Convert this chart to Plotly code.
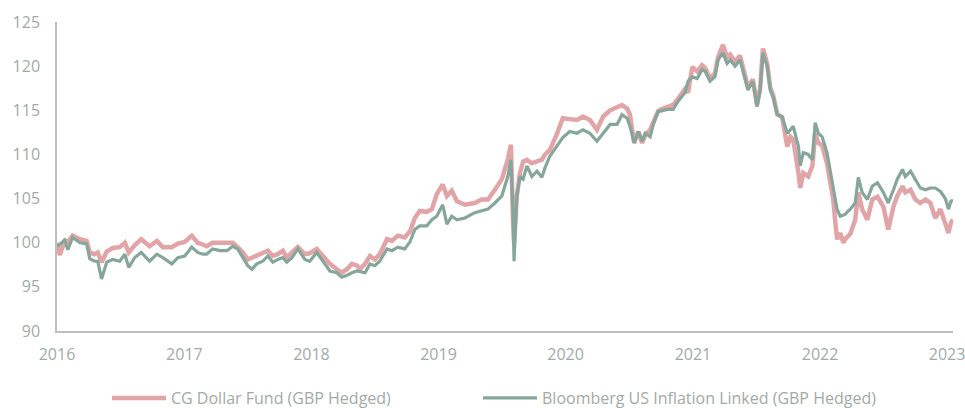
import plotly.graph_objects as go

dates = [
    "2016-01-01", "2016-01-09", "2016-01-23", "2016-02-01", "2016-02-15", "2016-03-07", "2016-03-26",
    "2016-04-04", "2016-04-18", "2016-04-27", "2016-05-08", "2016-05-14", "2016-05-23", "2016-06-09",
    "2016-06-29", "2016-07-14", "2016-07-25", "2016-08-11", "2016-08-30", "2016-09-23", "2016-10-14",
    "2016-10-31", "2016-11-26", "2016-12-13", "2017-01-02",
    "2017-01-22", "2017-02-08", "2017-02-23", "2017-03-06", "2017-03-23", "2017-04-13", "2017-05-03",
    "2017-05-20", "2017-06-03", "2017-06-18", "2017-07-02", "2017-07-14", "2017-07-28", "2017-08-14",
    "2017-08-29", "2017-09-12", "2017-09-26", "2017-10-11", "2017-10-22", "2017-11-06", "2017-11-23",
    "2017-12-13", "2017-12-27",
    "2018-01-16", "2018-02-03", "2018-02-23", "2018-03-15", "2018-03-29", "2018-04-13", "2018-04-27",
    "2018-05-12", "2018-05-20", "2018-06-04", "2018-06-18", "2018-07-02", "2018-07-16", "2018-08-06",
    "2018-08-20", "2018-09-06", "2018-09-26", "2018-10-11", "2018-10-25", "2018-11-08", "2018-11-28",
    "2018-12-13", "2018-12-27",
    "2019-01-13", "2019-01-25", "2019-02-08", "2019-02-23", "2019-03-18", "2019-04-15", "2019-05-05",
    "2019-05-23", "2019-06-12", "2019-07-02", "2019-07-19", "2019-07-28", "2019-08-03", "2019-08-06",
    "2019-08-14", "2019-08-23", "2019-09-01", "2019-09-12", "2019-09-26", "2019-10-11", "2019-10-25",
    "2019-11-03", "2019-11-17", "2019-12-07", "2019-12-24",
    "2020-01-13", "2020-02-03", "2020-02-20", "2020-03-11", "2020-03-31", "2020-04-18", "2020-05-08",
    "2020-05-28", "2020-06-11", "2020-06-26", "2020-07-04", "2020-07-16", "2020-07-28", "2020-08-08",
    "2020-08-17", "2020-08-31", "2020-09-09", "2020-09-23", "2020-09-30", "2020-10-20", "2020-11-05",
    "2020-11-19", "2020-12-09", "2020-12-18", "2020-12-30",
    "2021-01-13", "2021-01-27", "2021-02-05", "2021-02-19", "2021-03-05", "2021-03-14", "2021-03-28",
    "2021-04-09", "2021-04-18", "2021-05-02", "2021-05-16", "2021-05-25", "2021-06-08", "2021-06-22",
    "2021-07-04", "2021-07-13", "2021-07-21", "2021-08-02", "2021-08-11", "2021-08-20", "2021-08-31",
    "2021-09-14", "2021-09-29", "2021-10-08", "2021-10-16", "2021-10-31", "2021-11-05", "2021-11-14",
    "2021-11-28", "2021-12-10", "2021-12-18", "2021-12-27",
    "2022-01-07", "2022-01-21", "2022-01-30", "2022-02-08", "2022-02-14", "2022-02-19", "2022-02-28",
    "2022-03-09", "2022-03-14", "2022-03-23", "2022-03-29", "2022-04-12", "2022-04-21", "2022-05-02",
    "2022-05-17", "2022-05-31", "2022-06-15", "2022-07-02", "2022-07-16", "2022-07-31", "2022-08-11",
    "2022-08-26", "2022-09-03", "2022-09-18", "2022-10-02", "2022-10-16", "2022-10-31", "2022-11-14",
    "2022-11-28", "2022-12-13", "2022-12-27", "2023-01-05", "2023-01-12", "2023-01-18",
]

cg_dollar_fund = [
    100.0, 98.6, 100.2, 100.1, 100.8, 100.4, 100.2,
    98.9, 98.7, 98.9, 97.8, 98.3, 99.0, 99.4,
    99.5, 100.0, 98.9, 99.7, 100.4, 99.6, 100.2,
    99.5, 99.5, 99.9, 100.1,
    100.8, 100.0, 99.8, 99.6, 100.0, 100.0, 100.0,
    100.0, 99.5, 98.9, 98.1, 98.3, 98.5, 98.9,
    99.1, 98.5, 98.7, 99.1, 98.3, 98.9, 99.5,
    98.7, 98.8,
    99.3, 98.5, 97.6, 97.0, 96.6, 97.0, 97.6,
    97.4, 97.0, 97.6, 98.5, 98.1, 98.7, 100.4,
    100.2, 100.8, 100.6, 101.3, 102.8, 103.6, 103.5,
    103.8, 105.5,
    106.6, 105.3, 105.9, 104.7, 104.3, 104.5, 104.9,
    104.9, 106.0, 107.2, 109.4, 111.1, 102.6, 100.0,
    105.3, 107.9, 109.2, 109.4, 109.0, 109.2, 109.4,
    110.0, 110.5, 112.3, 114.1,
    114.0, 113.9, 114.3, 113.9, 112.8, 114.3, 115.0,
    115.3, 115.6, 115.2, 114.5, 111.3, 112.6, 111.3,
    112.2, 112.8, 113.6, 114.9, 115.1, 115.4, 115.6,
    116.3, 117.4, 117.0, 119.9,
    119.4, 120.1, 119.8, 118.6, 119.2, 121.0, 122.4,
    121.0, 121.3, 120.5, 121.2, 119.8, 117.6, 118.5,
    115.6, 117.5, 122.0, 120.3, 117.6, 116.6, 114.6,
    114.2, 110.9, 112.0, 111.7, 107.9, 106.2, 107.9,
    107.5, 108.7, 112.4, 111.3,
    111.0, 109.0, 107.2, 104.9, 102.3, 100.4, 101.1,
    100.0, 100.4, 100.8, 101.0, 102.6, 105.7, 103.8,
    102.6, 104.9, 105.2, 104.1, 101.5, 104.1, 105.3,
    106.4, 105.7, 106.0, 104.9, 104.5, 104.9, 104.5,
    102.8, 103.8, 102.3, 101.1, 102.3, 102.6,
]

bloomberg_us_il = [
    99.6, 99.8, 100.3, 99.2, 100.6, 100.0, 99.9,
    98.2, 97.9, 97.9, 95.9, 96.8, 97.8, 98.1,
    97.9, 98.7, 97.2, 98.3, 98.9, 97.9, 98.7,
    98.3, 97.6, 98.3, 98.5,
    99.5, 98.9, 98.7, 98.7, 99.3, 99.1, 99.1,
    99.6, 99.3, 98.3, 97.4, 97.0, 97.6, 97.9,
    98.5, 97.8, 98.1, 98.3, 97.8, 98.3, 99.3,
    98.1, 97.9,
    98.9, 97.9, 96.8, 96.6, 96.1, 96.3, 96.6,
    96.8, 96.7, 96.6, 97.6, 97.4, 97.9, 99.3,
    99.1, 99.5, 99.3, 100.1, 101.5, 101.9, 101.9,
    102.6, 103.0,
    104.3, 102.1, 103.0, 102.6, 102.8, 103.4, 103.6,
    103.8, 104.5, 105.3, 107.5, 109.4, 103.4, 97.9,
    105.3, 107.5, 107.2, 108.7, 107.5, 108.1, 107.4,
    108.5, 109.8, 110.9, 111.9,
    112.6, 112.4, 112.8, 112.4, 111.5, 112.4, 113.4,
    113.4, 114.5, 114.1, 113.2, 111.3, 112.6, 111.5,
    112.4, 112.0, 113.4, 114.9, 114.9, 115.1, 115.1,
    116.0, 117.0, 118.3, 118.8,
    118.6, 119.6, 119.4, 118.3, 118.8, 120.7, 121.5,
    120.3, 120.7, 120.0, 120.7, 119.4, 117.3, 118.3,
    115.4, 117.3, 121.5, 120.0, 117.3, 116.4, 114.5,
    114.3, 112.4, 112.8, 113.2, 110.9, 108.7, 110.2,
    110.0, 109.4, 113.6, 112.4,
    112.0, 110.2, 108.3, 106.4, 105.0, 103.8, 103.0,
    103.1, 103.2, 103.6, 103.8, 104.5, 107.4, 105.7,
    104.9, 106.4, 106.8, 105.7, 104.5, 106.0, 107.2,
    108.3, 107.5, 108.1, 107.2, 106.2, 106.0, 106.2,
    106.2, 105.8, 105.0, 103.8, 104.7, 104.8,
]

series_names = ["CG Dollar Fund (GBP Hedged)", "Bloomberg US Inflation Linked (GBP Hedged)"]
y_ticks = [90, 95, 100, 105, 110, 115, 120, 125]
x_ticks = ["2016-01-01", "2017-01-01", "2018-01-01", "2019-01-01", "2020-01-01",
           "2021-01-01", "2022-01-01", "2023-01-01"]
x_tick_labels = ["2016", "2017", "2018", "2019", "2020", "2021", "2022", "2023"]

PINK = "#e1a5a8"
GREEN = "#86a69b"
TEXT = "#a2aaa8"
AXIS = "#bcbfbe"
FONT = "Open Sans"

fig = go.Figure()
fig.add_trace(go.Scatter(x=dates, y=cg_dollar_fund, mode="lines", name=series_names[0],
                         line=dict(color=PINK, width=4.5), legend="legend"))
fig.add_trace(go.Scatter(x=dates, y=bloomberg_us_il, mode="lines", name=series_names[1],
                         line=dict(color=GREEN, width=3.2), legend="legend2"))

legend_common = dict(orientation="h", xanchor="left", y=-0.2168, yanchor="middle",
                     font=dict(family=FONT, size=16, color=TEXT), itemwidth=54,
                     bgcolor="rgba(0,0,0,0)")

fig.update_layout(
    width=965, height=408,
    margin=dict(l=57, r=12, t=22, b=77, autoexpand=False),
    paper_bgcolor="white", plot_bgcolor="white",
    font=dict(family=FONT, size=16, color=TEXT),
    showlegend=True,
    legend=dict(x=0.0558, **legend_common),
    legend2=dict(x=0.4699, **legend_common),
    xaxis=dict(range=["2016-01-01", "2023-01-18"], tickmode="array", tickvals=x_ticks,
               ticktext=x_tick_labels, showgrid=False, zeroline=False, automargin=False,
               showline=True, linecolor=AXIS, linewidth=1.5, ticklabeloverflow="allow",
               ticks="outside", ticklen=8, tickcolor="rgba(0,0,0,0)",
               tickfont=dict(family=FONT, size=16, color=TEXT)),
    yaxis=dict(range=[90, 125], tickmode="array", tickvals=y_ticks, showgrid=False,
               zeroline=False, showline=True, linecolor=AXIS, linewidth=1.5, automargin=False,
               ticks="outside", ticklen=12, tickcolor="rgba(0,0,0,0)",
               tickfont=dict(family=FONT, size=16, color=TEXT)),
)

fig.write_html("out.html", config={"displayModeBar": False},
               post_script="document.body.style.margin='0';document.body.style.overflow='hidden';")
